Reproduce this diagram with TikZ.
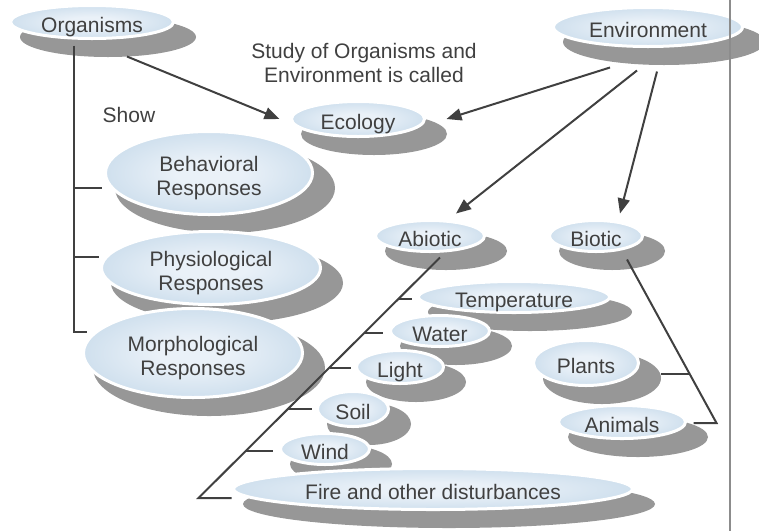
\documentclass[tikz,border=0pt]{standalone}
\usepackage{fontspec}
\setmainfont{Liberation Sans}
\usepackage{tikz}
\usetikzlibrary{
    arrows.meta,
    shapes.geometric,
    calc,
    backgrounds
}
\definecolor{ink}{HTML}{404040}
\definecolor{shadowgray}{HTML}{979797}
\definecolor{rulegray}{HTML}{8C8C8C}
\definecolor{bubblein}{HTML}{EAF1F8}
\definecolor{bubblemid}{HTML}{CBDDEC}
\definecolor{bubbleout}{HTML}{9CC0DD}
\pgfdeclareradialshading{bubbleshade}{\pgfpoint{0bp}{0bp}}{color(0bp)=(bubblein); color(8bp)=(bubblein); color(28bp)=(bubblemid); color(50bp)=(bubbleout)}

\begin{document}
\begin{tikzpicture}[x=1pt, y=-1pt, font=\fontsize{21}{24}\selectfont, text=ink,
    bubble/.style 2 args={ellipse, shade, shading=bubbleshade, draw=white, line width=3pt,
        inner sep=0pt, outer sep=0pt, minimum width=2*#1pt+3pt, minimum height=2*#2pt+3pt},
    words/.style={align=center, text depth=0pt, yshift=-3pt},
    link/.style={draw=ink, line width=2pt},
    arrow/.style={link, -{Triangle[length=15pt, width=12pt]}}]
\useasboundingbox (0, 0) rectangle (759, 531);
\node[bubble={80}{15}, label={[words]center:Organisms}] (org) at (92, 22) {};
\node[bubble={93}{18}, label={[words]center:Environment}] (env) at (648, 27) {};
\node[bubble={65}{16}, label={[words]center:Ecology}] (eco) at (358, 119) {};
\node[bubble={102}{40}, label={[words]center:Behavioral\\Responses}] (beh) at (209, 173) {};
\node[bubble={108}{35}, label={[words]center:Physiological\\Responses}] (phy) at (211, 268) {};
\node[bubble={108}{43}, label={[words]center:Morphological\\Responses}] (mor) at (193, 353) {};
\node[bubble={53}{14}, label={[words]center:Abiotic}] (abi) at (430, 236) {};
\node[bubble={45}{14}, label={[words]center:Biotic}] (bio) at (596, 236) {};
\node[bubble={94}{14}, label={[words]center:Temperature}] (tem) at (514, 297) {};
\node[bubble={48}{14}, label={[words]center:Water}] (wat) at (440, 331) {};
\node[bubble={42}{15}, label={[words]center:Light}] (lig) at (400, 367) {};
\node[bubble={34}{16}, label={[words]center:Soil}] (soi) at (353, 409) {};
\node[bubble={43}{14}, label={[words]center:Wind}] (win) at (325, 449) {};
\node[bubble={198}{19}, label={[words]center:Fire and other disturbances}] (fir) at (433, 489) {};
\node[bubble={51}{21}, label={[words]center:Plants}] (pla) at (586, 363) {};
\node[bubble={62}{15}, label={[words]center:Animals}] (ani) at (622, 422) {};
\node (show) at (129, 115) {Show};
\node[align=center, text depth=0pt] (study) at (364, 63) {Study of Organisms and\\Environment is called};
% drop shadows behind the bubbles
\begin{scope}[on background layer]
    \foreach \b in {org,env,eco,beh,phy,mor,abi,bio,tem,wat,lig,soi,win,fir,pla,ani}
        \fill[shadowgray] let \p1 = (\b.center), \p2 = (\b.east), \p3 = (\b.north) in
            ([shift={(16pt,-15pt)}]\b.center) ellipse [x radius={\x2-\x1+6.5pt}, y radius={\y3-\y1+3.5pt}];
\end{scope}
\draw[arrow] ([shift={(35,18)}]org.south) -- ([xshift=-12pt]eco.west);
\draw[arrow] ([shift={(-38,21)}]env.south) -- ([xshift=22pt]eco.east);
\draw[arrow] ([shift={(-11,24)}]env.south) -- ([shift={(26,-7)}]abi.north);
\draw[arrow] ([shift={(9,25)}]env.south) -- ([shift={(24,-7)}]bio.north);
% organisms: show
\coordinate (spine) at ([shift={(-18,7)}]org.south);
\draw[link] (spine) |- ([shift={(3,-21)}]mor.west);
\draw[link] ([shift={(-4,15)}]beh.west) -| (spine);
\draw[link] ([shift={(-3,-11)}]phy.west) -| (spine);
% abiotic factors
\draw[link] ([shift={(10,6)}]abi.south) -- ([shift={(-35,9)}]fir.west) -- ([shift={(-2,9)}]fir.west);
\draw[link] ([shift={(-7,2)}]tem.west) -- +(-13,0);
\draw[link] ([shift={(-8,2)}]wat.west) -- +(-18,0);
\draw[link] ([shift={(-6,1)}]lig.west) -- +(-21,0);
\draw[link] ([shift={(-6,0)}]soi.west) -- +(-24,0);
\draw[link] ([shift={(-8,2)}]win.west) -- +(-27,0);
% biotic factors
\draw[link] ([shift={(31,8)}]bio.south) -- ([shift={(31,1)}]ani.east) -- ([shift={(8,1)}]ani.east);
\draw[link] ([shift={(22,11)}]pla.east) -- +(29,0);
\draw[rulegray, line width=2pt] (729.5, 0) -- (729.5, 531);
\end{tikzpicture}
\end{document}
